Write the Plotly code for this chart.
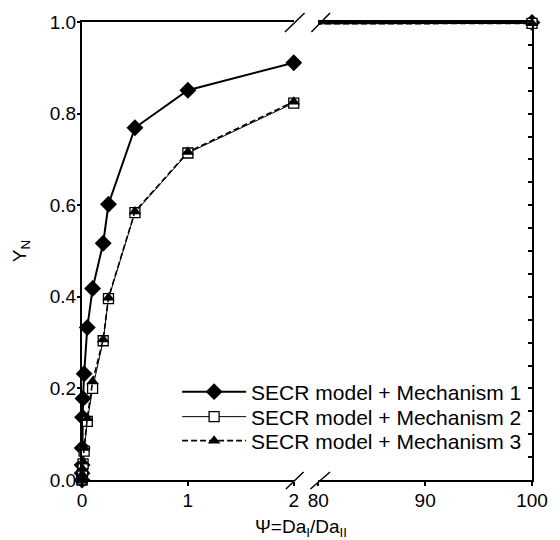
import plotly.graph_objects as go

# ---- data ----
psi_low = [0, 0.0005, 0.001, 0.002, 0.005, 0.01, 0.02, 0.05, 0.1, 0.2, 0.25, 0.5, 1, 2]
yn_mech1_low = [0.0, 0.015, 0.033, 0.07, 0.137, 0.178, 0.232, 0.333, 0.418, 0.517, 0.602, 0.769, 0.851, 0.911]
yn_mech2_low = [0.0, 0.002, 0.005, 0.01, 0.02, 0.035, 0.063, 0.128, 0.200, 0.304, 0.396, 0.584, 0.714, 0.823]
yn_mech3_low = [0.0, 0.003, 0.006, 0.012, 0.024, 0.040, 0.070, 0.135, 0.215, 0.307, 0.398, 0.586, 0.716, 0.826]

psi_high = [20, 100]
yn_mech1_high = [0.996, 0.999]
yn_mech2_high = [0.993, 0.997]
yn_mech3_high = [0.993, 0.997]

series_names = ["SECR model + Mechanism 1", "SECR model + Mechanism 2", "SECR model + Mechanism 3"]

x_ticks_low = [0, 1, 2]
x_ticks_high = [80, 90, 100]
y_ticks = [0.0, 0.2, 0.4, 0.6, 0.8, 1.0]

FONT = "Liberation Sans, Arial, sans-serif"

styles = [
    dict(line=dict(color="black", width=2),
         marker=dict(symbol="diamond", size=13, color="black")),
    dict(line=dict(color="black", width=1),
         marker=dict(symbol="square", size=10, color="white", line=dict(color="black", width=1.3))),
    dict(line=dict(color="black", width=1.6, dash="6px,3px"),
         marker=dict(symbol="triangle-up", size=11, color="black")),
]
legend_ids = ["legend", "legend2", "legend3"]

low = [yn_mech1_low, yn_mech2_low, yn_mech3_low]
high = [yn_mech1_high, yn_mech2_high, yn_mech3_high]

fig = go.Figure()
for name, ys, st, lg in zip(series_names, low, styles, legend_ids):
    fig.add_trace(go.Scatter(x=psi_low, y=ys, mode="lines+markers", name=name,
                             xaxis="x", yaxis="y", cliponaxis=False, legend=lg, **st))
for name, ys, st in zip(series_names, high, styles):
    fig.add_trace(go.Scatter(x=psi_high, y=ys, mode="lines+markers", name=name,
                             xaxis="x2", yaxis="y2", cliponaxis=False, showlegend=False, **st))

D1 = 0.4706
D2 = 0.525
axline = dict(showline=True, linecolor="black", linewidth=2, showgrid=False, zeroline=False,
              tickcolor="black", tickwidth=1.5)
tickfont = dict(family=FONT, size=19, color="black")

legend_rows = [392, 417, 441]
legends = {}
for lg, row in zip(legend_ids, legend_rows):
    legends[lg] = dict(
        x=(179 - 82) / 459, y=(480 - row) / 458, xanchor="left", yanchor="middle",
        font=dict(family=FONT, size=21, color="black"), bgcolor="rgba(0,0,0,0)",
        itemwidth=64, borderwidth=0)

fig.update_layout(
    width=560, height=540,
    margin=dict(l=82, r=19, t=22, b=60),
    paper_bgcolor="white", plot_bgcolor="white",
    font=dict(family=FONT, size=19, color="black"),
    xaxis=dict(domain=[0, D1], range=[0, 2], anchor="y", mirror=True,
               ticks="outside", ticklen=4, tickvals=x_ticks_low, tickfont=tickfont,
               ticklabelstandoff=-2, **axline),
    xaxis3=dict(overlaying="x", range=[0, 2], anchor="y", showline=False, showgrid=False, zeroline=False,
                ticks="inside", ticklen=7, tickvals=x_ticks_low, showticklabels=False,
                tickcolor="black", tickwidth=1.5,
                minor=dict(ticks="inside", ticklen=5, tick0=0, dtick=0.2, tickcolor="black",
                           tickwidth=1.2, showgrid=False)),
    xaxis2=dict(domain=[D2, 1], range=[80, 100], anchor="y2", mirror=True,
                ticks="outside", ticklen=4, tickvals=x_ticks_high, tickfont=tickfont,
                ticklabelstandoff=-2, **axline),
    xaxis4=dict(overlaying="x2", range=[80, 100], anchor="y2", showline=False, showgrid=False, zeroline=False,
                ticks="inside", ticklen=7, tickvals=x_ticks_high, showticklabels=False,
                tickcolor="black", tickwidth=1.5,
                minor=dict(ticks="inside", ticklen=5, tick0=80, dtick=2, tickcolor="black",
                           tickwidth=1.2, showgrid=False)),
    yaxis=dict(domain=[0, 1], range=[0, 1], anchor="x", ticks="outside", ticklen=3,
               tickvals=y_ticks, tickformat=".1f", tickfont=tickfont, ticklabelstandoff=-3, **axline),
    yaxis3=dict(overlaying="y", range=[0, 1], anchor="x", side="left", showline=False, showgrid=False,
                zeroline=False, ticks="inside", ticklen=7, tickvals=y_ticks, showticklabels=False,
                tickcolor="black", tickwidth=1.5,
                minor=dict(ticks="inside", ticklen=4, tick0=0, dtick=0.05, tickcolor="black",
                           tickwidth=1.2, showgrid=False)),
    yaxis2=dict(domain=[0, 1], range=[0, 1], anchor="x2", side="right", ticks="inside", ticklen=4,
                tick0=0, dtick=0.05, showticklabels=False, **axline),
    showlegend=True,
    **legends,
)

# axis break marks
def px2paper(px, py):
    return (px - 82) / 459, (480 - py) / 458

for (x0, y0, x1, y1) in [(290, 489, 308, 472), (315, 489, 335, 472),
                         (289, 32, 309, 13), (316, 32, 335, 13)]:
    a0, b0 = px2paper(x0, y0)
    a1, b1 = px2paper(x1, y1)
    fig.add_shape(type="line", xref="paper", yref="paper", x0=a0, y0=b0, x1=a1, y1=b1,
                  line=dict(color="black", width=1.5))

# axis titles
fig.add_annotation(text="\u03a8=Da<sub>I</sub>/Da<sub>II</sub>", xref="paper", yref="paper",
                   x=(305 - 82) / 459, y=(480 - 528) / 458, showarrow=False,
                   xanchor="center", yanchor="middle", font=dict(family=FONT, size=19, color="black"))
fig.add_annotation(text="Y<sub>N</sub>", xref="paper", yref="paper",
                   x=(20 - 82) / 459, y=0.5, showarrow=False, textangle=-90,
                   xanchor="center", yanchor="middle", font=dict(family=FONT, size=19, color="black"))

fig.write_html("out.html", config={"displayModeBar": False},
               post_script="document.body.style.margin='0px';")
